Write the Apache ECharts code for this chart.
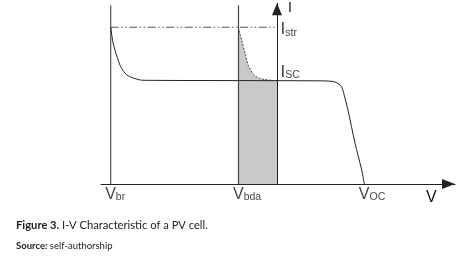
<!DOCTYPE html>
<html>
<head>
<meta charset="utf-8">
<script src="https://cdn.jsdelivr.net/npm/echarts@6/dist/echarts.min.js"></script>
<style>
html,body{margin:0;padding:0;background:#fff;}
#chart{width:467px;height:262px;}
</style>
</head>
<body>
<div id="chart"></div>
<script>
// Axis ranges (arbitrary units)
const vRange = [-176, 178];
const iRange = [0, 181];

// Characteristic voltages / currents
const V_BR = -166.3;
const V_BDA = -38.5;
const V_OC = 87.3;
const I_STR = 157;
const I_SC = 103.5;
const LINE_TOP = 179;

// Main I-V curve (solid)
const mainV = [-166.3, -166, -164.5, -162, -159.5, -157, -154.5, -152, -149, -145.3, -140, -135.3, -120, -100, -50, 0, 30, 50, 55, 59, 62, 64.7, 68, 71, 78, 84.7, 87.3];
const mainI = [157, 155, 144, 134, 126, 119, 114.5, 111, 108.5, 106.7, 105, 104, 103.8, 103.7, 103.6, 103.5, 103.4, 103.2, 102.8, 101.8, 99.8, 97.3, 86, 74, 41, 14, 0];

// Bypass-diode activated curve (dotted, shaded)
const bdaV = [-38.5, -37, -35.3, -32, -28.7, -23.7, -17, -7, 0];
const bdaI = [157, 150, 144, 131, 119, 110, 105.7, 104, 103.5];

// Labels
const xLabelPos = [V_BR, V_BDA, V_OC];
const xLabelMain = ['V', 'V', 'V'];
const xLabelSub = ['br', 'bda', 'OC'];
const yLabelPos = [I_STR, I_SC];
const yLabelMain = ['I', 'I'];
const yLabelSub = ['str', 'SC'];
const xAxisName = 'V';
const yAxisName = 'I';
const captionBold = 'Figure 3.';
const captionText = ' I-V Characteristic of a PV cell.';
const sourceBold = 'Source:';
const sourceText = ' self-authorship';

const zip = (a, b) => a.map((v, i) => [v, b[i]]);
const FONT = 'Liberation Sans, Arial, sans-serif';
const CAPFONT = 'Lato, sans-serif';

const chart = echarts.init(document.getElementById('chart'), null, {renderer: 'canvas'});

const richV = {
  v: {fontFamily: FONT, fontSize: 16, color: '#111', verticalAlign: 'bottom'},
  s: {fontFamily: FONT, fontSize: 10.5, color: '#111', verticalAlign: 'bottom'}
};

const option = {
  animation: false,
  backgroundColor: '#fff',
  title: {
    left: 11,
    top: 215,
    itemGap: 10,
    text: '{b|' + captionBold + '}' + captionText,
    textStyle: {fontFamily: CAPFONT, fontSize: 11.2, fontWeight: 'normal', color: '#222',
      rich: {b: {fontFamily: CAPFONT, fontSize: 11.2, fontWeight: 'bold', color: '#222'}}},
    subtext: '{b|' + sourceBold + '}' + sourceText,
    subtextStyle: {fontFamily: CAPFONT, fontSize: 9.5, color: '#222',
      rich: {b: {fontFamily: CAPFONT, fontSize: 9.5, fontWeight: 'bold', color: '#222'}}}
  },
  grid: {left: 101, right: 12, top: 3.3, bottom: 78, containLabel: false},
  xAxis: {
    type: 'value', min: vRange[0], max: vRange[1],
    name: xAxisName, nameLocation: 'end', nameGap: -29,
    nameTextStyle: {fontFamily: FONT, fontSize: 16, color: '#111', align: 'left', verticalAlign: 'top', padding: [6, 0, 0, 0]},
    axisLine: {onZero: true, symbol: ['none', 'triangle'], symbolSize: [10, 13], symbolOffset: [0, -6.5],
      lineStyle: {color: '#222', width: 1}},
    axisTick: {show: false}, axisLabel: {show: false}, splitLine: {show: false}
  },
  yAxis: {
    type: 'value', min: iRange[0], max: iRange[1],
    name: yAxisName, nameLocation: 'end', nameGap: 2,
    nameTextStyle: {fontFamily: FONT, fontSize: 14, color: '#111', align: 'left', verticalAlign: 'top', padding: [0, 0, 0, 11]},
    axisLine: {onZero: true, symbol: ['none', 'triangle'], symbolSize: [10, 12], symbolOffset: [0, -6],
      lineStyle: {color: '#222', width: 1}},
    axisTick: {show: false}, axisLabel: {show: false}, splitLine: {show: false}
  },
  series: [
    {
      name: 'bda-area', type: 'line', data: zip(bdaV, bdaI), smooth: 0.3,
      symbol: 'none', lineStyle: {width: 0}, areaStyle: {color: '#c9c9c9', opacity: 1}, z: 1, silent: true
    },
    {
      name: 'vbr-line', type: 'line', data: [[V_BR, 0], [V_BR, LINE_TOP]],
      symbol: 'none', lineStyle: {color: '#555', width: 1.2}, z: 2, silent: true
    },
    {
      name: 'vbda-line', type: 'line', data: [[V_BDA, 0], [V_BDA, LINE_TOP]],
      symbol: 'none', lineStyle: {color: '#444', width: 1.2}, z: 2, silent: true
    },
    {
      name: 'istr-line', type: 'line', data: [[V_BR, I_STR], [-2, I_STR]],
      symbol: 'none', lineStyle: {color: '#555', width: 1, type: [8, 2.5, 1.5, 2.5, 1.5, 2.5]}, z: 2, silent: true
    },
    {
      name: 'bda-curve', type: 'line', data: zip(bdaV, bdaI), smooth: 0.3,
      symbol: 'none', lineStyle: {color: '#444', width: 1, type: [2, 1.5]}, z: 3, silent: true
    },
    {
      name: 'iv-curve', type: 'line', data: zip(mainV, mainI), smooth: 0.3,
      symbol: 'none', lineStyle: {color: '#222', width: 1}, z: 4, silent: true
    },
    {
      name: 'x-labels', type: 'scatter', symbolSize: 0, z: 5, silent: true,
      data: xLabelPos.map((v, i) => ({
        value: [v, 0],
        label: {show: true, position: 'inside', align: 'left', verticalAlign: 'top', offset: [-5.5, 3],
          formatter: '{v|' + xLabelMain[i] + '}{s|' + xLabelSub[i] + '}', rich: richV}
      }))
    },
    {
      name: 'y-labels', type: 'scatter', symbolSize: 0, z: 5, silent: true,
      data: yLabelPos.map((v, i) => ({
        value: [0, v],
        label: {show: true, position: 'inside', align: 'left', verticalAlign: 'top', offset: [3.5, i === 0 ? -6 : -17],
          formatter: '{v|' + yLabelMain[i] + '}{s|' + yLabelSub[i] + '}',
          rich: {
            v: {fontFamily: FONT, fontSize: 17, color: '#111', verticalAlign: 'bottom'},
            s: {fontFamily: FONT, fontSize: 10.5, color: '#111', verticalAlign: 'bottom'}
          }}
      }))
    }
  ]
};
chart.setOption(option);
</script>
</body>
</html>
